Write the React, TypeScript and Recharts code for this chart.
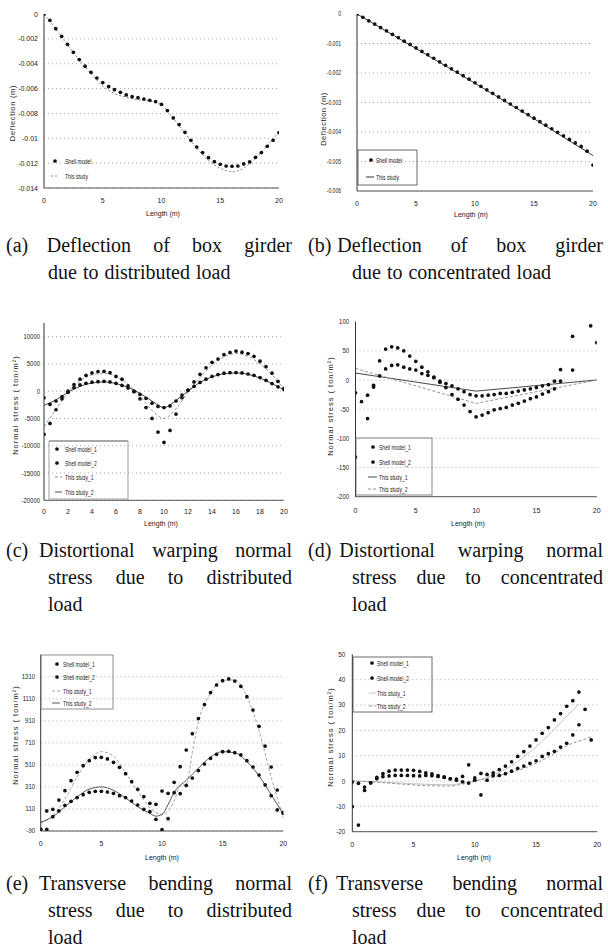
import React from 'react';
import { ComposedChart, Scatter, Line, XAxis, YAxis, CartesianGrid } from 'recharts';

// ---------- shared x positions / ticks ----------
const X_HALF = [0, 0.5, 1, 1.5, 2, 2.5, 3, 3.5, 4, 4.5, 5, 5.5, 6, 6.5, 7, 7.5, 8, 8.5, 9, 9.5, 10, 10.5, 11, 11.5, 12, 12.5, 13, 13.5, 14, 14.5, 15, 15.5, 16, 16.5, 17, 17.5, 18, 18.5, 19, 19.5, 20];
const X_INT = [0, 1, 2, 3, 4, 5, 6, 7, 8, 9, 10, 11, 12, 13, 14, 15, 16, 17, 18, 19, 20];
const X_TICKS_5 = [0, 5, 10, 15, 20];
const X_TICKS_2 = [0, 2, 4, 6, 8, 10, 12, 14, 16, 18, 20];

// ---------- (a) ----------
const A_SHELL = [0, -0.00051, -0.00118, -0.0018, -0.00244, -0.00308, -0.00367, -0.0042, -0.00469, -0.00515, -0.00552, -0.00584, -0.00609, -0.0063, -0.00651, -0.00665, -0.00673, -0.00684, -0.00694, -0.00705, -0.00727, -0.00777, -0.00836, -0.0089, -0.00952, -0.01016, -0.0107, -0.01115, -0.01156, -0.01188, -0.01209, -0.01223, -0.01225, -0.01223, -0.01206, -0.0119, -0.01153, -0.01115, -0.01064, -0.01016, -0.00954];
const A_STUDY = [0, -0.0012, -0.0025, -0.0037, -0.0048, -0.0058, -0.0064, -0.0067, -0.0069, -0.007, -0.0073, -0.0084, -0.0096, -0.0108, -0.0118, -0.0124, -0.0127, -0.0124, -0.0116, -0.0106, -0.0095];
const A_YTICKS = [0, -0.002, -0.004, -0.006, -0.008, -0.01, -0.012, -0.014];

// ---------- (b) ----------
const B_SHELL = [0, -0.00011, -0.00023, -0.00034, -0.00046, -0.00057, -0.00069, -0.0008, -0.00092, -0.00103, -0.00115, -0.00127, -0.00138, -0.0015, -0.00162, -0.00174, -0.00186, -0.00197, -0.00209, -0.00221, -0.00233, -0.00245, -0.00257, -0.00269, -0.00281, -0.00293, -0.00305, -0.00317, -0.00329, -0.00341, -0.00353, -0.00365, -0.00377, -0.00389, -0.00401, -0.00413, -0.00425, -0.00437, -0.00449, -0.00465, -0.00512];
const B_STUDY_X = [0, 5, 10, 15, 20];
const B_STUDY = [0, -0.00117, -0.00235, -0.00355, -0.0048];
const B_YTICKS = [0, -0.001, -0.002, -0.003, -0.004, -0.005, -0.006];

// ---------- (c) ----------
const C_SHELL1 = [-7900, -5900, -3400, -1400, -200, 1200, 2200, 2900, 3350, 3600, 3650, 3400, 2700, 2200, 1000, -100, -1400, -3000, -5000, -7500, -9400, -7200, -4200, -1200, 200, 1700, 3100, 4300, 5300, 5900, 6700, 7100, 7350, 7150, 6900, 6400, 5500, 4500, 3300, 1800, 500];
const C_SHELL2 = [-1200, -2400, -1800, -1000, 0, 650, 1150, 1450, 1650, 1750, 1800, 1700, 1450, 1050, 600, 0, -600, -1300, -2200, -2800, -3000, -2700, -1800, -700, 150, 900, 1600, 2200, 2700, 3050, 3300, 3400, 3420, 3350, 3150, 2900, 2500, 2000, 1400, 800, 300];
const C_STUDY1 = [-6500, -3300, -300, 1900, 3000, 3300, 2700, 1300, -900, -3500, -5000, -3200, -200, 2500, 4800, 6300, 6900, 6400, 5000, 3000, 400];
const C_STUDY2 = [-2600, -1600, -200, 900, 1500, 1700, 1400, 700, -400, -1800, -3000, -1700, 0, 1600, 2600, 3200, 3350, 3100, 2400, 1400, 200];
const C_YTICKS = [10000, 5000, 0, -5000, -10000, -15000, -20000];

// ---------- (d) ----------
const D_SHELL1: [number, number][] = [[0, -132], [1, -66], [1.5, -12], [2, 33], [2.5, 53], [3, 57], [3.5, 55], [4, 50], [4.5, 41], [5, 32], [5.5, 22], [6, 14], [6.5, 5], [7, -2], [7.5, -13], [8, -25], [8.5, -33], [9, -43], [9.5, -54], [10, -63], [10.5, -60], [11, -56], [11.5, -51], [12, -49], [12.5, -47], [13, -43], [13.5, -40], [14, -36], [14.5, -32], [15, -29], [15.5, -24], [16, -20], [16.5, -15], [17, 18], [18, 75], [19.5, 93], [20, 64]];
const D_SHELL2: [number, number][] = [[0, -22], [0.5, -37], [1, -26], [1.5, -9], [2, 7], [2.5, 19], [3, 25], [3.5, 26], [4, 22], [4.5, 19], [5, 17], [5.5, 11], [6, 8], [6.5, 4], [7, -4], [7.5, -6], [8, -10], [8.5, -15], [9, -20], [9.5, -25], [10, -27], [10.5, -27], [11, -26], [11.5, -25], [12, -23], [12.5, -23], [13, -21], [13.5, -19], [14, -17], [14.5, -15], [15, -13], [15.5, -10], [16, -8], [16.5, -2], [17, -2], [18, 17]];
const D_STUDY1: [number, number][] = [[0, 12], [10, -19], [20, 0]];
const D_STUDY2: [number, number][] = [[0, 20], [10, -40], [20, 0]];
const D_YTICKS = [100, 50, 0, -50, -100, -150, -200];

// ---------- (e) ----------
const E_SHELL1 = [-75, 92, 107, 191, 276, 367, 443, 503, 548, 576, 579, 564, 533, 488, 430, 358, 288, 222, 161, 152, 273, 252, 352, 494, 645, 793, 930, 1057, 1166, 1235, 1274, 1290, 1271, 1223, 1129, 1008, 860, 681, 491, 282, 79];
const E_SHELL2 = [-75, -75, 40, 92, 143, 179, 213, 240, 261, 270, 270, 264, 252, 231, 213, 182, 146, 107, 85, 16, -78, 22, 258, 249, 324, 391, 458, 518, 570, 606, 630, 633, 621, 600, 548, 491, 418, 328, 231, 101, 70];
const E_STUDY1: [number, number][] = [[0, -20], [1, 50], [2, 200], [3, 400], [4, 560], [5, 630], [6, 590], [7, 440], [8, 270], [9, 120], [10, 60], [10.5, 90], [11, 180], [11.5, 320], [12, 330], [12.5, 620], [13, 900], [14, 1160], [15, 1280], [16, 1280], [17, 1130], [18, 820], [19, 400], [20, 30]];
const E_STUDY2: [number, number][] = [[0, -10], [1, 40], [2, 130], [3, 220], [4, 290], [5, 310], [6, 280], [7, 210], [8, 130], [9, 70], [9.5, 45], [10, 60], [10.5, 150], [11, 260], [12, 370], [13, 480], [14, 580], [15, 630], [16, 620], [17, 540], [18, 410], [19, 240], [20, 60]];
const E_YTICKS = [1310, 1110, 910, 710, 510, 310, 110, -90];

// ---------- (f) ----------
const F_SHELL1: [number, number][] = [[0, -10.1], [0.5, -17.4], [1, -3.7], [1.5, -0.7], [2, 1.4], [2.5, 2.9], [3, 3.9], [3.5, 4.3], [4, 4.3], [4.5, 4.3], [5, 4.2], [5.5, 3.8], [6, 3.2], [6.5, 2.8], [7, 2.1], [7.5, 1.4], [8, 0.9], [8.5, 0.8], [9, 1.8], [9.5, 6.4], [10, 1.2], [10.5, 3.0], [11, 2.6], [11.5, 3.2], [12, 4.5], [12.5, 5.9], [13, 7.6], [13.5, 9.7], [14, 11.6], [14.5, 13.8], [15, 16.2], [15.5, 18.8], [16, 21.1], [16.5, 24.1], [17, 26.6], [17.5, 29.5], [18, 31.7], [18.5, 35.1], [19, 28.3]];
const F_SHELL2: [number, number][] = [[0, -0.4], [0.5, -0.9], [1, -2.4], [1.5, -0.7], [2, 0.9], [2.5, 1.7], [3, 2.0], [3.5, 2.2], [4, 2.2], [4.5, 2.2], [5, 2.1], [5.5, 2.0], [6, 2.2], [6.5, 2.1], [7, 1.8], [7.5, 1.6], [8, 0.9], [8.5, 0.3], [9, -0.3], [9.5, -0.8], [10, 0.3], [10.5, -5.5], [11, 0.3], [11.5, 2.1], [12, 2.2], [12.5, 2.9], [13, 3.9], [13.5, 5.0], [14, 5.9], [14.5, 7.0], [15, 8.0], [15.5, 9.7], [16, 10.8], [16.5, 11.7], [17, 13.4], [17.5, 14.9], [18, 18.2], [18.5, 22.2], [19.5, 16.2]];
const F_STUDY1: [number, number][] = [[0, 0], [2, -0.3], [4, -0.8], [6, -1.3], [8, -1.5], [9, -0.8], [10, 0], [11, 1.5], [12, 3.5], [13, 6], [14, 9.5], [15, 13.5], [16, 18], [17, 23], [18, 28], [18.5, 30.5]];
const F_STUDY2: [number, number][] = [[0, 0], [2, -0.5], [4, -1.2], [6, -1.8], [8, -2], [9, -1.2], [10, 0], [11, 1], [12, 2.2], [13, 3.5], [14, 5], [15, 7], [16, 9.5], [17, 12.5], [18, 15], [19, 16.5], [19.5, 17.5]];
const F_YTICKS = [50, 40, 30, 20, 10, 0, -10, -20];

// ---------- text ----------
const LEG_2 = ['Shell model', 'This study'];
const LEG_4 = ['Shell model_1', 'Shell model_2', 'This study_1', 'This study_2'];
const X_TITLE = 'Length (m)';
const Y_TITLE_DEFL = 'Deflection (m)';
const Y_TITLE_STRESS = 'Normal stress ( ton/m\u00B2)';
const CAP_A = ['(a) Deflection of box girder', 'due to distributed load'];
const CAP_B = ['(b) Deflection of box girder', 'due to concentrated load'];
const CAP_C = ['(c) Distortional warping normal', 'stress due to distributed', 'load'];
const CAP_D = ['(d) Distortional warping normal', 'stress due to concentrated', 'load'];
const CAP_E = ['(e) Transverse bending normal', 'stress due to distributed', 'load'];
const CAP_F = ['(f) Transverse bending normal', 'stress due to concentrated', 'load'];

// ---------- helpers ----------
type Pt = { x: number; y: number };
const zip = (xs: number[], ys: number[]): Pt[] => ys.map((y, i) => ({ x: xs[i], y }));
const pairs = (p: [number, number][]): Pt[] => p.map(([x, y]) => ({ x, y }));

const SANS = "'Liberation Sans', Arial, sans-serif";
const SERIF = "'Liberation Serif', 'Times New Roman', 'DejaVu Serif', serif";

type SeriesDef = { name: string; kind: 'dot' | 'line'; data: Pt[]; stroke?: string; dash?: string; curve?: 'monotone' | 'linear' };
type LegendDef = { frame?: { x: number; y: number; w: number; h: number; stroke: string; top?: string }; rows: number[]; markerX: number; lx1: number; lx2: number; textX: number };
type PanelDef = {
  box: { x: number; y: number; w: number; h: number };
  plot: { l: number; t: number; r: number; b: number };
  xTicks: number[]; yTicks: number[]; yDomain: [number, number];
  xTickGap: number; yTickGap: number; yTickScale: number;
  xTitle: { x: number; y: number }; yTitle: { x: number; y: number; text: string; ls: number };
  series: SeriesDef[]; legend: LegendDef;
};

const DOT = '#111';
const DOT_R = 1.85;
const dotShape = (p: any) => <circle cx={p.cx} cy={p.cy} r={DOT_R} fill={DOT} />;

const PANELS: PanelDef[] = [
  {
    box: { x: 0, y: 0, w: 304, h: 220 }, plot: { l: 44, t: 14, r: 279, b: 188 },
    xTicks: X_TICKS_5, yTicks: A_YTICKS, yDomain: [-0.014, 0], xTickGap: 10.5, yTickGap: 6, yTickScale: 1,
    xTitle: { x: 163, y: 213 }, yTitle: { x: 12, y: 113, text: Y_TITLE_DEFL, ls: 0.7 },
    series: [
      { name: LEG_2[0], kind: 'dot', data: zip(X_HALF, A_SHELL) },
      { name: LEG_2[1], kind: 'line', data: zip(X_INT, A_STUDY), stroke: '#777', dash: '2 2', curve: 'monotone' },
    ],
    legend: { rows: [161, 176], markerX: 55, lx1: 51, lx2: 59, textX: 65 },
  },
  {
    box: { x: 304, y: 0, w: 304, h: 220 }, plot: { l: 357, t: 14, r: 593, b: 191 },
    xTicks: X_TICKS_5, yTicks: B_YTICKS, yDomain: [-0.006, 0], xTickGap: 10.5, yTickGap: 16, yTickScale: 0.72,
    xTitle: { x: 471, y: 214 }, yTitle: { x: 323, y: 119, text: Y_TITLE_DEFL, ls: 0.5 },
    series: [
      { name: LEG_2[0], kind: 'dot', data: zip(X_HALF, B_SHELL) },
      { name: LEG_2[1], kind: 'line', data: zip(B_STUDY_X, B_STUDY), stroke: '#222', curve: 'linear' },
    ],
    legend: { frame: { x: 358, y: 150, w: 59, h: 35, stroke: '#444' }, rows: [160, 177], markerX: 371, lx1: 366, lx2: 374, textX: 376 },
  },
  {
    box: { x: 0, y: 310, w: 304, h: 220 }, plot: { l: 44, t: 323, r: 284, b: 500.3 },
    xTicks: X_TICKS_2, yTicks: C_YTICKS, yDomain: [-20000, 12500], xTickGap: 8.5, yTickGap: 4, yTickScale: 0.85,
    xTitle: { x: 161, y: 523 }, yTitle: { x: 15, y: 405, text: Y_TITLE_STRESS, ls: 1 },
    series: [
      { name: LEG_4[0], kind: 'dot', data: zip(X_HALF, C_SHELL1) },
      { name: LEG_4[1], kind: 'dot', data: zip(X_HALF, C_SHELL2) },
      { name: LEG_4[2], kind: 'line', data: zip(X_INT, C_STUDY1), stroke: '#888', dash: '3 2', curve: 'monotone' },
      { name: LEG_4[3], kind: 'line', data: zip(X_INT, C_STUDY2), stroke: '#333', curve: 'monotone' },
    ],
    legend: { frame: { x: 49, y: 441, w: 79, h: 58, stroke: '#888', top: '#aaa' }, rows: [449, 463, 477, 492], markerX: 57, lx1: 55, lx2: 62, textX: 65 },
  },
  {
    box: { x: 304, y: 310, w: 304, h: 220 }, plot: { l: 355.5, t: 321.7, r: 596.7, b: 496.7 },
    xTicks: X_TICKS_5, yTicks: D_YTICKS, yDomain: [-200, 100], xTickGap: 11.5, yTickGap: 6.5, yTickScale: 0.85,
    xTitle: { x: 468, y: 523 }, yTitle: { x: 330, y: 406, text: Y_TITLE_STRESS, ls: 1 },
    series: [
      { name: LEG_4[0], kind: 'dot', data: pairs(D_SHELL1) },
      { name: LEG_4[1], kind: 'dot', data: pairs(D_SHELL2) },
      { name: LEG_4[2], kind: 'line', data: pairs(D_STUDY1), stroke: '#333', curve: 'linear' },
      { name: LEG_4[3], kind: 'line', data: pairs(D_STUDY2), stroke: '#888', dash: '3 2', curve: 'linear' },
    ],
    legend: { frame: { x: 356, y: 438, w: 76, h: 57, stroke: '#666' }, rows: [447, 462, 477, 489], markerX: 373, lx1: 368, lx2: 377, textX: 379 },
  },
  {
    box: { x: 0, y: 640, w: 304, h: 225 }, plot: { l: 40.7, t: 654.7, r: 283.3, b: 831 },
    xTicks: X_TICKS_5, yTicks: E_YTICKS, yDomain: [-90, 1510], xTickGap: 10.5, yTickGap: 5.7, yTickScale: 0.85,
    xTitle: { x: 162, y: 857 }, yTitle: { x: 15, y: 735, text: Y_TITLE_STRESS, ls: 1 },
    series: [
      { name: LEG_4[0], kind: 'dot', data: zip(X_HALF, E_SHELL1) },
      { name: LEG_4[1], kind: 'dot', data: zip(X_HALF, E_SHELL2) },
      { name: LEG_4[2], kind: 'line', data: pairs(E_STUDY1), stroke: '#999', dash: '3 2', curve: 'monotone' },
      { name: LEG_4[3], kind: 'line', data: pairs(E_STUDY2), stroke: '#444', curve: 'monotone' },
    ],
    legend: { frame: { x: 41, y: 655, w: 72, h: 54, stroke: '#777' }, rows: [664, 677, 691, 703], markerX: 57, lx1: 52, lx2: 60, textX: 63 },
  },
  {
    box: { x: 304, y: 640, w: 304, h: 225 }, plot: { l: 352.3, t: 654.3, r: 597.3, b: 831.7 },
    xTicks: X_TICKS_5, yTicks: F_YTICKS, yDomain: [-20, 50], xTickGap: 10, yTickGap: 7, yTickScale: 0.9,
    xTitle: { x: 474, y: 857 }, yTitle: { x: 330, y: 737, text: Y_TITLE_STRESS, ls: 1 },
    series: [
      { name: LEG_4[0], kind: 'dot', data: pairs(F_SHELL1) },
      { name: LEG_4[1], kind: 'dot', data: pairs(F_SHELL2) },
      { name: LEG_4[2], kind: 'line', data: pairs(F_STUDY1), stroke: '#bbb', curve: 'monotone' },
      { name: LEG_4[3], kind: 'line', data: pairs(F_STUDY2), stroke: '#888', dash: '3 2', curve: 'monotone' },
    ],
    legend: { frame: { x: 353, y: 657, w: 79, h: 55, stroke: '#444' }, rows: [663, 678, 693, 706], markerX: 372, lx1: 369, lx2: 376, textX: 377 },
  },
];

const TICK_STYLE = { fontSize: 7, fill: '#222', fontFamily: SANS };

const makeYTick = (sx: number) => (props: any) => {
  const { x, y, payload } = props;
  return (
    <text transform={`translate(${x} ${y}) scale(${sx} 1)`} textAnchor="end" dy="0.355em" fontSize={7} fill="#222" fontFamily={SANS}>
      {String(payload.value)}
    </text>
  );
};

function Panel({ p }: { p: PanelDef }) {
  const { box, plot } = p;
  const margin = { top: plot.t - box.y, right: box.x + box.w - plot.r, bottom: 0, left: 0 };
  const xAxisH = box.y + box.h - plot.b;
  const yAxisW = plot.l - box.x;
  const maxY = p.yDomain[1];
  return (
    <div style={{ position: 'absolute', left: box.x, top: box.y, width: box.w, height: box.h }}>
      <ComposedChart width={box.w} height={box.h} margin={margin}>
        <CartesianGrid vertical={false} stroke="#aaa" strokeDasharray="1 3" horizontalValues={p.yTicks.filter((v) => v !== maxY)} />
        <XAxis
          type="number" dataKey="x" domain={[0, 20]} ticks={p.xTicks} interval={0} allowDataOverflow
          height={xAxisH} tickLine={false} tickSize={0} tickMargin={p.xTickGap}
          axisLine={{ stroke: '#555', strokeWidth: 1 }} tick={TICK_STYLE}
        />
        <YAxis
          type="number" dataKey="y" domain={p.yDomain} ticks={p.yTicks} interval={0} allowDataOverflow
          width={yAxisW} tickLine={false} tickSize={0} tickMargin={p.yTickGap}
          axisLine={{ stroke: '#333', strokeWidth: 1 }} tick={makeYTick(p.yTickScale)}
        />
        {p.series.map((s, i) =>
          s.kind === 'dot' ? (
            <Scatter key={i} name={s.name} data={s.data} dataKey="y" shape={dotShape} isAnimationActive={false} />
          ) : (
            <Line key={i} name={s.name} data={s.data} dataKey="y" type={s.curve || 'linear'} stroke={s.stroke}
              strokeDasharray={s.dash} strokeWidth={0.9} dot={false} activeDot={false} isAnimationActive={false} />
          )
        )}
      </ComposedChart>
    </div>
  );
}

function Overlay() {
  return (
    <svg width={608} height={952} style={{ position: 'absolute', left: 0, top: 0, pointerEvents: 'none' }}>
      {PANELS.map((p, pi) => {
        const L = p.legend;
        return (
          <g key={pi}>
            <text x={p.xTitle.x} y={p.xTitle.y} textAnchor="middle" dominantBaseline="central" fontSize={7} fontFamily={SANS} fill="#222">{X_TITLE}</text>
            <text x={p.yTitle.x} y={p.yTitle.y} transform={`rotate(-90 ${p.yTitle.x} ${p.yTitle.y})`} textAnchor="middle" dominantBaseline="central"
              fontSize={7.5} letterSpacing={p.yTitle.ls} fontFamily={SANS} fill="#222">{p.yTitle.text}</text>
            {L.frame && (
              <g>
                <rect x={L.frame.x} y={L.frame.y} width={L.frame.w} height={L.frame.h} fill="none" stroke={L.frame.stroke} strokeWidth={0.8} />
                {L.frame.top && <line x1={L.frame.x} x2={L.frame.x + L.frame.w} y1={L.frame.y} y2={L.frame.y} stroke={L.frame.top} strokeWidth={2.2} />}
              </g>
            )}
            {p.series.map((s, i) => (
              <g key={i}>
                {s.kind === 'dot' ? (
                  <circle cx={L.markerX} cy={L.rows[i]} r={DOT_R} fill={DOT} />
                ) : (
                  <line x1={L.lx1} x2={L.lx2} y1={L.rows[i]} y2={L.rows[i]} stroke={s.stroke} strokeDasharray={s.dash} strokeWidth={0.9} />
                )}
                <text transform={`translate(${L.textX} ${L.rows[i]}) scale(0.72 1)`} dominantBaseline="central" fontSize={7} fontFamily={SANS} fill="#222">{s.name}</text>
              </g>
            ))}
          </g>
        );
      })}
    </svg>
  );
}

type CapLine = { text: string; x: number; base: number; w?: number; gap?: number };
const capLayout = (lines: string[], col: 0 | 1, base: number, justify2: boolean, gap: number): CapLine[] => {
  const x1 = col === 0 ? 6 : 308;
  const x2 = col === 0 ? 48 : 352;
  const right = col === 0 ? 292 : 603;
  return lines.map((t, i) => ({
    text: t,
    x: i === 0 ? x1 : x2,
    base: base + i * 27,
    w: i === 0 ? right - x1 : i === 1 && justify2 ? right - x2 : undefined,
    gap: i === 0 ? gap : undefined,
  }));
};

const CAPTIONS: CapLine[] = [
  ...capLayout(CAP_A, 0, 252, false, 18.5),
  ...capLayout(CAP_B, 1, 252, false, 6),
  ...capLayout(CAP_C, 0, 557, true, 10.8),
  ...capLayout(CAP_D, 1, 557, true, 8),
  ...capLayout(CAP_E, 0, 890, true, 10.8),
  ...capLayout(CAP_F, 1, 890, true, 8),
];

function Caption({ c }: { c: CapLine }) {
  const style = {
    position: 'absolute', left: c.x, top: c.base - 16.75, width: c.w ?? 300, height: 20,
    fontFamily: SERIF, fontSize: 20, lineHeight: '20px', color: '#111',
    textAlign: c.w ? 'justify' : 'left', textAlignLast: c.w ? 'justify' : 'left', wordSpacing: c.w ? 0 : 1,
  } as React.CSSProperties;
  if (c.gap !== undefined) {
    const k = c.text.indexOf(' ');
    const label = c.text.slice(0, k);
    const rest = c.text.slice(k + 1);
    return (
      <div style={style}>
        <span style={{ display: 'inline-block', marginRight: c.gap }}>{label}</span>{rest}
      </div>
    );
  }
  return <div style={style}>{c.text}</div>;
}

export default function App() {
  return (
    <div style={{ position: 'absolute', left: 0, top: 0, width: 608, height: 952, background: '#fff', overflow: 'hidden' }}>
      {PANELS.map((p, i) => <Panel key={i} p={p} />)}
      <Overlay />
      {CAPTIONS.map((c, i) => <Caption key={i} c={c} />)}
    </div>
  );
}
